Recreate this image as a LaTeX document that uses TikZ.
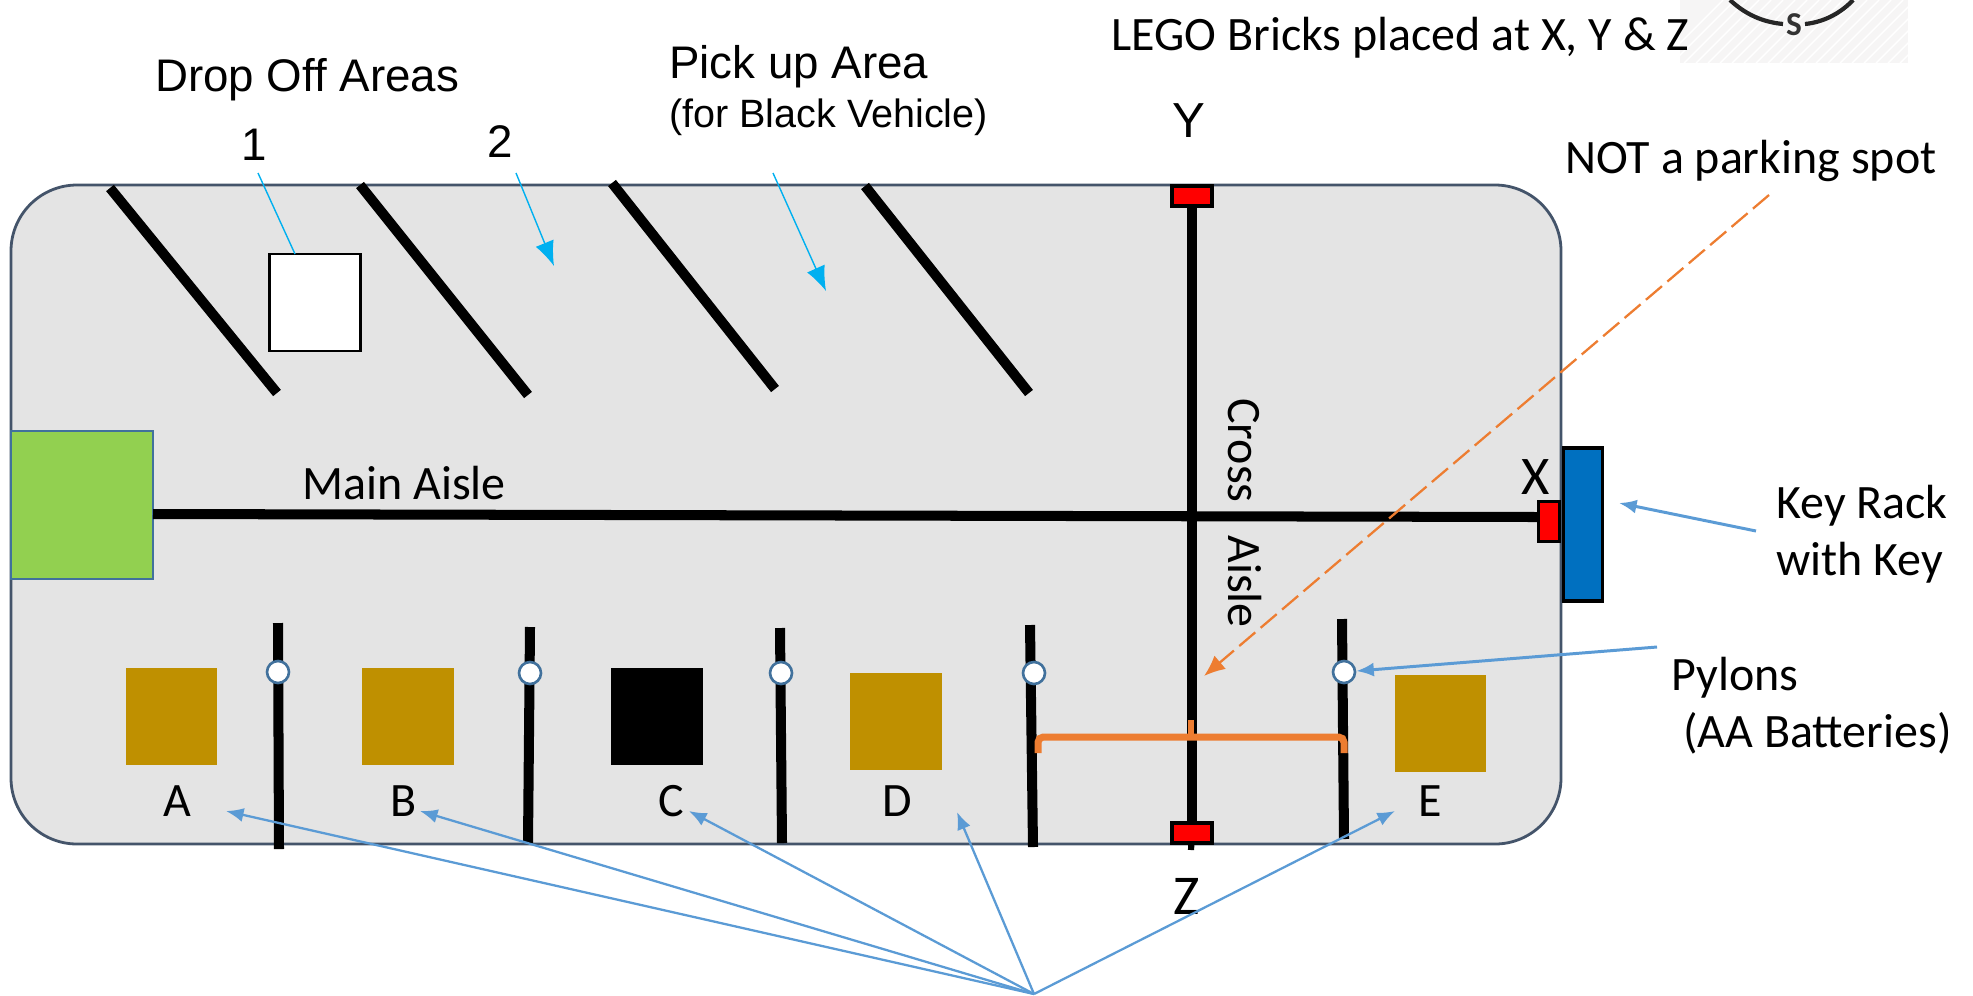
\documentclass[tikz,border=0pt]{standalone}
\usepackage{fontspec}
\usepackage{tikz}
\usetikzlibrary{arrows.meta}
\setmainfont{Carlito}
\newfontfamily\arialfont{Liberation Sans}
\definecolor{floorgray}{HTML}{E4E4E4}
\definecolor{edgeblue}{HTML}{44546A}
\definecolor{pylonblue}{HTML}{41719C}
\definecolor{arrowblue}{HTML}{5B9BD5}
\definecolor{skyblue}{HTML}{00B0F0}
\definecolor{brickbrown}{HTML}{BF9000}
\definecolor{zoneorange}{HTML}{ED7D31}
\definecolor{startgreen}{HTML}{92D050}
\definecolor{rackblue}{HTML}{0070C0}
\definecolor{hatchgray}{HTML}{F6F5F5}
\begin{document}
\begin{tikzpicture}[x=0.02cm,y=-0.02cm]
\tikzstyle{bar}=[line width=5.7pt, black]
\tikzstyle{callout}=[line width=1.3pt, arrowblue, -{Latex[length=10pt,width=8pt]}]
\tikzstyle{skyline}=[line width=0.8pt, skyblue]
\tikzstyle{label}=[inner sep=0pt, anchor=base west, font=\fontsize{27.3}{32.4}\selectfont]
\tikzstyle{arial}=[inner sep=0pt, anchor=base west, font=\arialfont\fontsize{26}{32}\selectfont]
\tikzstyle{brick}=[inner sep=0pt, minimum width=1.83cm, minimum height=1.94cm]
\tikzstyle{pylon}=[circle, draw=pylonblue, line width=1.5pt, fill=white, inner sep=0pt, minimum size=0.44cm]
\tikzstyle{marker}=[draw=black, line width=1.8pt, fill=red, inner sep=0pt]
\useasboundingbox (0,0) rectangle (1973,995);
% compass corner
\fill[hatchgray] (1680,0) rectangle (1908,63);
\begin{scope}
\clip (1680,0) rectangle (1908,63);
\foreach \i in {1660,1672,...,1980}{
	\draw[white, line width=0.8pt] (\i,63) -- (\i+63,0);
	}
\draw[line width=2.4pt, black!85] (1730,0) .. controls (1745,14) and (1762,22) .. (1783,24);
\draw[line width=2.4pt, black!85] (1805,24) .. controls (1825,22) and (1842,12) .. (1853,0);
\end{scope}
\node[inner sep=0pt, font=\bfseries\fontsize{19}{20}\selectfont, text=black!80] (south) at (1794,25){S};
% floor
\draw[fill=floorgray, draw=edgeblue, line width=1.6pt, rounded corners=1.32cm] (11,185) rectangle (1561,844);
% parking lines
\foreach \xa/\ya/\xb/\yb in {110/188/277/393, 360/185/528/395, 612/183/775/389, 865/186/1029/393}{
	\draw[bar] (\xa,\ya) -- (\xb,\yb);
	}
\node[draw=black, line width=1.4pt, fill=white, inner sep=0pt, minimum width=1.82cm, minimum height=1.94cm] (drop) at (315,302.5){};
% aisles
\node[draw=pylonblue, line width=0.7pt, fill=startgreen, inner sep=0pt, minimum width=2.84cm, minimum height=2.96cm] (start) at (82,505){};
\node[marker, minimum width=0.8cm, minimum height=0.4cm] (Ymark) at (1192,196){};
\node[marker, minimum width=0.8cm, minimum height=0.4cm] (Zmark) at (1192,833){};
\node[marker, minimum width=0.42cm, minimum height=0.8cm] (Xmark) at (1549,521.5){};
\node[draw=black, line width=1.9pt, fill=rackblue, inner sep=0pt, minimum width=0.78cm, minimum height=3.06cm] (rack) at (1583,524.5){};
\coordinate (Zend) at (1191,850);
\coordinate (mainW) at (153,514);
\coordinate (mainE) at (1538,517);
\draw[bar] (mainW) -- (mainE);
\draw[bar] (Ymark) -- (Zmark);
\draw[bar, line width=3.5pt] (Zmark) -- (Zend);
% pylon lines
\foreach \xa/\ya/\xb/\yb in {278/623/279/849, 530/627/528/843, 780/628/782/843, 1030/625/1033/847, 1342/619/1344/839}{
	\draw[bar] (\xa,\ya) -- (\xb,\yb);
	}
\node[pylon] (pa) at (278,672){};
\node[pylon] (pb) at (530,673){};
\node[pylon] (pc) at (781,673){};
\node[pylon] (pd) at (1034,673){};
\node[pylon] (pe) at (1344,672){};
% bricks
\node[brick, fill=brickbrown] (brickA) at (171.5,716.5){};
\node[brick, fill=brickbrown] (brickB) at (408,716.5){};
\node[brick, fill=black] (brickC) at (657,716.5){};
\node[brick, fill=brickbrown] (brickD) at (896,721.5){};
\node[brick, fill=brickbrown] (brickE) at (1440.5,723.5){};
\node[label] (A) at (163,816){A};
\node[label] (B) at (390,816){B};
\node[label] (C) at (658,816){C};
\node[label] (D) at (882,816){D};
\node[label] (E) at (1418,816){E};
% orange brace
\draw[zoneorange, line width=4pt, rounded corners=3pt] (1038,753) -- (1038,737) -- (1344,737) -- (1344,753);
\draw[zoneorange, line width=3pt] (1191,737) -- (1191,720);
% texts
\node[arial] (dropoff) at (155,91){Drop Off Areas};
\node[arial] (pickup) at (669,78){Pick up Area};
\node[arial, font=\arialfont\fontsize{22.5}{28}\selectfont] (forblack) at (669,127){(for Black Vehicle)};
\node[arial] (one) at (241,160){1};
\node[arial] (two) at (487,157){2};
\node[arial, font=\arialfont\fontsize{28}{32}\selectfont] (Y) at (1172,137){Y};
\node[label, font=\fontsize{32}{36}\selectfont] (Z) at (1173,914){Z};
\node[label, font=\fontsize{31}{36}\selectfont] (X) at (1521,494){X};
\node[label] (bricks) at (1111,50){LEGO Bricks placed at X, Y \& Z};
\node[label] (notspot) at (1565,173){NOT a parking spot};
\node[label] (main) at (302,499){Main Aisle};
\node[label, rotate=-90] (cross) at (1228,398){Cross};
\node[label, rotate=-90] (aisle) at (1228,535){Aisle};
\node[label, align=left, anchor=north west] (key) at (1776,485){Key Rack\\with Key};
\node[label, align=left, anchor=north west] (pylons) at (1671,657){Pylons\\\hspace{0.25em}(AA Batteries)};
% connectors
\coordinate (oneA) at (258,173);
\coordinate (oneB) at (295,254);
\coordinate (twoA) at (516,173);
\coordinate (twoB) at (554,266);
\coordinate (pickA) at (773,173);
\coordinate (pickB) at (826,291);
\draw[skyline] (oneA) -- (oneB);
\draw[skyline, -{Latex[length=14pt,width=11pt]}] (twoA) -- (twoB);
\draw[skyline, -{Latex[length=14pt,width=11pt]}] (pickA) -- (pickB);
\coordinate (spotA) at (1769,195);
\coordinate (spotB) at (1204,676);
\draw[zoneorange, line width=1.3pt, dashed, dash pattern=on 12pt off 4pt, -{Latex[length=12pt,width=10pt]}] (spotA) -- (spotB);
\coordinate (apex) at (1034,994);
\coordinate (tipA) at (226,811);
\coordinate (tipB) at (420,811);
\coordinate (tipC) at (689,811);
\coordinate (tipD) at (957,812);
\coordinate (tipE) at (1395,811);
\foreach \t in {tipA,tipB,tipC,tipD,tipE}{
	\draw[callout] (apex) -- (\t);
	}
\coordinate (pylonA) at (1657,647);
\draw[callout, line width=1.7pt] (pylonA) -- (pe);
\coordinate (rackA) at (1756,531);
\coordinate (rackB) at (1619,503);
\draw[callout, line width=1.7pt] (rackA) -- (rackB);
\end{tikzpicture}
\end{document}
